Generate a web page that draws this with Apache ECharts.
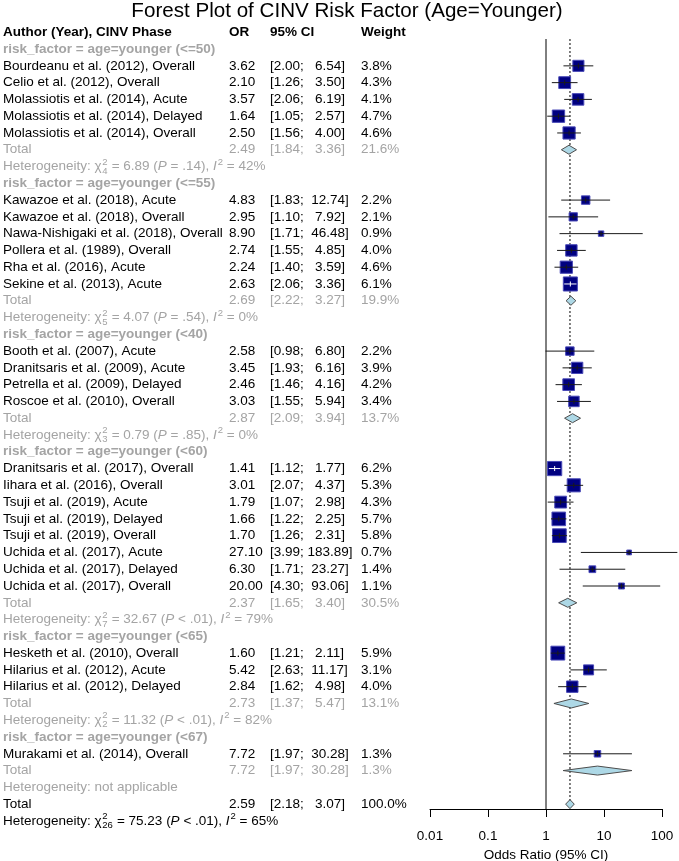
<!DOCTYPE html>
<html><head><meta charset="utf-8">
<script src="https://cdn.jsdelivr.net/npm/echarts@6/dist/echarts.min.js"></script>
<style>html,body{margin:0;padding:0;background:#fff}#c{width:679px;height:861px}</style>
</head><body><div id="c"></div>
<script>
// ---------------- data ----------------
const groupLabels = [
  'risk_factor = age=younger (<=50)',
  'risk_factor = age=younger (<=55)',
  'risk_factor = age=younger (<40)',
  'risk_factor = age=younger (<60)',
  'risk_factor = age=younger (<65)',
  'risk_factor = age=younger (<67)'
];
const studyLabels = [
  'Bourdeanu et al. (2012), Overall',
  'Celio et al. (2012), Overall',
  'Molassiotis et al. (2014), Acute',
  'Molassiotis et al. (2014), Delayed',
  'Molassiotis et al. (2014), Overall',
  'Kawazoe et al. (2018), Acute',
  'Kawazoe et al. (2018), Overall',
  'Nawa-Nishigaki et al. (2018), Overall',
  'Pollera et al. (1989), Overall',
  'Rha et al. (2016), Acute',
  'Sekine et al. (2013), Acute',
  'Booth et al. (2007), Acute',
  'Dranitsaris et al. (2009), Acute',
  'Petrella et al. (2009), Delayed',
  'Roscoe et al. (2010), Overall',
  'Dranitsaris et al. (2017), Overall',
  'Iihara et al. (2016), Overall',
  'Tsuji et al. (2019), Acute',
  'Tsuji et al. (2019), Delayed',
  'Tsuji et al. (2019), Overall',
  'Uchida et al. (2017), Acute',
  'Uchida et al. (2017), Delayed',
  'Uchida et al. (2017), Overall',
  'Hesketh et al. (2010), Overall',
  'Hilarius et al. (2012), Acute',
  'Hilarius et al. (2012), Delayed',
  'Murakami et al. (2014), Overall'
];
const studyGroup  = [0,0,0,0,0, 1,1,1,1,1,1, 2,2,2,2, 3,3,3,3,3,3,3,3, 4,4,4, 5];
const studyOR     = [3.62,2.10,3.57,1.64,2.50, 4.83,2.95,8.90,2.74,2.24,2.63, 2.58,3.45,2.46,3.03, 1.41,3.01,1.79,1.66,1.70,27.10,6.30,20.00, 1.60,5.42,2.84, 7.72];
const studyLower  = [2.00,1.26,2.06,1.05,1.56, 1.83,1.10,1.71,1.55,1.40,2.06, 0.98,1.93,1.46,1.55, 1.12,2.07,1.07,1.22,1.26,3.99,1.71,4.30, 1.21,2.63,1.62, 1.97];
const studyUpper  = [6.54,3.50,6.19,2.57,4.00, 12.74,7.92,46.48,4.85,3.59,3.36, 6.80,6.16,4.16,5.94, 1.77,4.37,2.98,2.25,2.31,183.89,23.27,93.06, 2.11,11.17,4.98, 30.28];
const studyWeight = [3.8,4.3,4.1,4.7,4.6, 2.2,2.1,0.9,4.0,4.6,6.1, 2.2,3.9,4.2,3.4, 6.2,5.3,4.3,5.7,5.8,0.7,1.4,1.1, 5.9,3.1,4.0, 1.3];

const totalOR     = [2.49,2.69,2.87,2.37,2.73,7.72];
const totalLower  = [1.84,2.22,2.09,1.65,1.37,1.97];
const totalUpper  = [3.36,3.27,3.94,3.40,5.47,30.28];
const totalWeight = [21.6,19.9,13.7,30.5,13.1,1.3];
const hetChi2 = [6.89,4.07,0.79,32.67,11.32,null];
const hetDf   = [4,5,3,7,2,null];
const hetP    = ['= .14','= .54','= .85','< .01','< .01',null];
const hetI2   = [42,0,0,79,82,null];

const overallOR = 2.59, overallLower = 2.18, overallUpper = 3.07, overallWeight = 100.0;
const overallChi2 = 75.23, overallDf = 26, overallP = '< .01', overallI2 = 65;

const headerLabels = ['Author (Year), CINV Phase', 'OR', '95% CI', 'Weight'];
const xTickLabels = ['0.01','0.1','1','10','100'];
const titleText = 'Forest Plot of CINV Risk Factor (Age=Younger)';
const xAxisTitle = 'Odds Ratio (95% CI)';

// ---------------- layout helpers ----------------
const FAM = '"Liberation Sans", Arial, sans-serif';
const FS = 13.5;
const GRAY = '#a4a4a4';
const colX = {label: 3, or: 229, ci: 270, w: 361};
const mctx = document.createElement('canvas').getContext('2d');
function fnt(size, opts) { opts = opts || {}; return (opts.italic ? 'italic ' : '') + (opts.bold ? 'bold ' : '') + size + 'px ' + FAM; }
function tw(t, f) { mctx.font = f; return mctx.measureText(t).width; }
function f2(v) { return v.toFixed(2); }
function ciStr(lo, hi) { let u = f2(hi); while (u.length < 6) u = ' ' + u; return '[' + f2(lo) + '; ' + u + ']'; }
function wStr(w) { return w.toFixed(1) + '%'; }

// rows
const textRows = [];   // {row, kind, ...}
const studyMarks = []; // [or, row, lo, hi, w]
const diamondMarks = []; // [or, row, lo, hi]
let r = 0;
textRows.push({row: r++, kind: 'header'});
let overallRow;
for (let g = 0; g < groupLabels.length; g++) {
  textRows.push({row: r++, kind: 'group', text: groupLabels[g]});
  for (let i = 0; i < studyLabels.length; i++) {
    if (studyGroup[i] !== g) continue;
    textRows.push({row: r, kind: 'study', label: studyLabels[i], or: studyOR[i], lo: studyLower[i], hi: studyUpper[i], w: studyWeight[i]});
    studyMarks.push([studyOR[i], r, studyLower[i], studyUpper[i], studyWeight[i]]);
    r++;
  }
  textRows.push({row: r, kind: 'total', color: GRAY, or: totalOR[g], lo: totalLower[g], hi: totalUpper[g], w: totalWeight[g]});
  diamondMarks.push([totalOR[g], r, totalLower[g], totalUpper[g]]);
  r++;
  textRows.push({row: r++, kind: 'het', color: GRAY, chi: hetChi2[g], df: hetDf[g], p: hetP[g], i2: hetI2[g]});
}
overallRow = r;
textRows.push({row: r, kind: 'total', color: '#000', or: overallOR, lo: overallLower, hi: overallUpper, w: overallWeight});
diamondMarks.push([overallOR, r, overallLower, overallUpper]);
r++;
textRows.push({row: r++, kind: 'het', color: '#000', chi: overallChi2, df: overallDf, p: overallP, i2: overallI2});

function txt(t, x, y, f, fill, align) {
  return {type: 'text', silent: true, style: {text: t, x: x, y: y, font: f, fill: fill, align: align || 'left', verticalAlign: 'middle', textAlign: align || 'left', textVerticalAlign: 'middle'}};
}

function renderText(params, api) {
  const t = textRows[api.value(2)];
  const y = api.coord([1, t.row])[1];
  const base = fnt(FS);
  const ch = [];
  if (t.kind === 'header') {
    const b = fnt(FS, {bold: true});
    ch.push(txt(headerLabels[0], colX.label, y, b, '#000'));
    ch.push(txt(headerLabels[1], colX.or, y, b, '#000'));
    ch.push(txt(headerLabels[2], colX.ci, y, b, '#000'));
    ch.push(txt(headerLabels[3], colX.w, y, b, '#000'));
  } else if (t.kind === 'group') {
    ch.push(txt(t.text, colX.label, y, fnt(FS, {bold: true}), GRAY));
  } else if (t.kind === 'study' || t.kind === 'total') {
    const col = t.kind === 'study' ? '#000' : t.color;
    ch.push(txt(t.kind === 'study' ? t.label : 'Total', colX.label, y, base, col));
    ch.push(txt(f2(t.or), colX.or, y, base, col));
    ch.push(txt(ciStr(t.lo, t.hi), colX.ci, y, base, col));
    ch.push(txt(wStr(t.w), colX.w, y, base, col));
  } else if (t.kind === 'het') {
    const col = t.color;
    let x = colX.label;
    const small = fnt(9.5);
    const it = fnt(FS, {italic: true});
    if (t.chi === null) {
      ch.push(txt('Heterogeneity: not applicable', x, y, base, col));
    } else {
      const pieces = [
        ['Heterogeneity: ', base], ['\u03c7', base], ['SUPSUB'],
        [' = ' + f2(t.chi) + ' (', base], ['P', it], [' ' + t.p + '), ', base],
        ['I', it], ['SUP'], [' = ' + t.i2 + '%', base]
      ];
      for (const p of pieces) {
        if (p[0] === 'SUPSUB') {
          ch.push(txt('2', x + 0.5, y - 4.5, small, col));
          ch.push(txt(String(t.df), x + 0.5, y + 4.5, small, col));
          x += Math.max(tw('2', small), tw(String(t.df), small)) + 1;
        } else if (p[0] === 'SUP') {
          ch.push(txt('2', x + 1, y - 4.5, small, col));
          x += tw('2', small) + 1;
        } else {
          ch.push(txt(p[0], x, y, p[1], col));
          x += tw(p[0], p[1]);
        }
      }
    }
  }
  return {type: 'group', children: ch};
}

function renderStudy(params, api) {
  const row = api.value(1);
  const c = api.coord([api.value(0), row]);
  const lo = api.coord([api.value(2), row])[0];
  const hi = api.coord([api.value(3), row])[0];
  const side = 5.7 * Math.sqrt(api.value(4));
  const inside = lo >= c[0] - side / 2 && hi <= c[0] + side / 2;
  const lc = inside ? '#ffffff' : '#1a1a1a';
  return {type: 'group', children: [
    {type: 'rect', shape: {x: c[0] - side / 2, y: c[1] - side / 2, width: side, height: side}, style: {fill: '#000080', stroke: '#4a4ab8', lineWidth: 1}},
    {type: 'line', shape: {x1: lo, y1: c[1], x2: hi, y2: c[1]}, style: {stroke: lc, lineWidth: 1}},
    {type: 'line', shape: {x1: c[0], y1: c[1] - 2.5, x2: c[0], y2: c[1] + 2.5}, style: {stroke: lc, lineWidth: 1}}
  ]};
}

function renderDiamond(params, api) {
  const row = api.value(1);
  const c = api.coord([api.value(0), row]);
  const lo = api.coord([api.value(2), row])[0];
  const hi = api.coord([api.value(3), row])[0];
  const h = 4.5;
  return {type: 'polygon', shape: {points: [[lo, c[1]], [c[0], c[1] - h], [hi, c[1]], [c[0], c[1] + h]]},
    style: {fill: '#add8e6', stroke: '#4d4d4d', lineWidth: 1}};
}

const refLines = [[1, 0], [overallOR, 1]];
function renderRef(params, api) {
  const x = api.coord([api.value(0), overallRow])[0];
  const cs = params.coordSys;
  const dotted = api.value(1) === 1;
  const y2 = dotted ? api.coord([1, overallRow + 0.2])[1] : cs.y + cs.height;
  return {type: 'line', shape: {x1: x, y1: cs.y, x2: x, y2: y2},
    style: {stroke: '#000', lineWidth: 1, lineDash: dotted ? [2, 2] : null}};
}

const chart = echarts.init(document.getElementById('c'), null, {renderer: 'canvas'});
chart.setOption({
  animation: false,
  backgroundColor: '#fff',
  title: {text: titleText, left: 347, top: 0, textAlign: 'center', padding: [1, 0, 0, 0],
    textStyle: {fontFamily: FAM, fontSize: 20.6, fontWeight: 'normal', color: '#000'}},
  grid: {left: 430, right: 17, top: 39, bottom: 52, containLabel: false, outerBoundsMode: 'none'},
  xAxis: {
    type: 'log', logBase: 10, min: 0.01, max: 100,
    name: xAxisTitle, nameLocation: 'middle', nameGap: 38,
    nameTextStyle: {fontFamily: FAM, fontSize: FS, color: '#000'},
    axisLine: {show: true, lineStyle: {color: '#000', width: 1}},
    axisTick: {show: true, length: 8, lineStyle: {color: '#000'}},
    axisLabel: {margin: 20, fontFamily: FAM, fontSize: FS, color: '#000',
      formatter: function (v) { const i = Math.round(Math.log10(v)) + 2; return xTickLabels[i] || ''; }},
    splitLine: {show: false}, minorTick: {show: false}
  },
  yAxis: {type: 'value', inverse: true, min: 0.4, max: 46.29, show: false},
  series: [
    {type: 'custom', renderItem: renderRef, data: refLines, clip: false, silent: true, z: 1},
    {type: 'custom', renderItem: renderStudy, data: studyMarks, clip: false, silent: true, z: 3},
    {type: 'custom', renderItem: renderDiamond, data: diamondMarks, clip: false, silent: true, z: 3},
    {type: 'custom', renderItem: renderText, data: textRows.map((t, i) => [1, t.row, i]), clip: false, silent: true, z: 4}
  ]
});
</script></body></html>
